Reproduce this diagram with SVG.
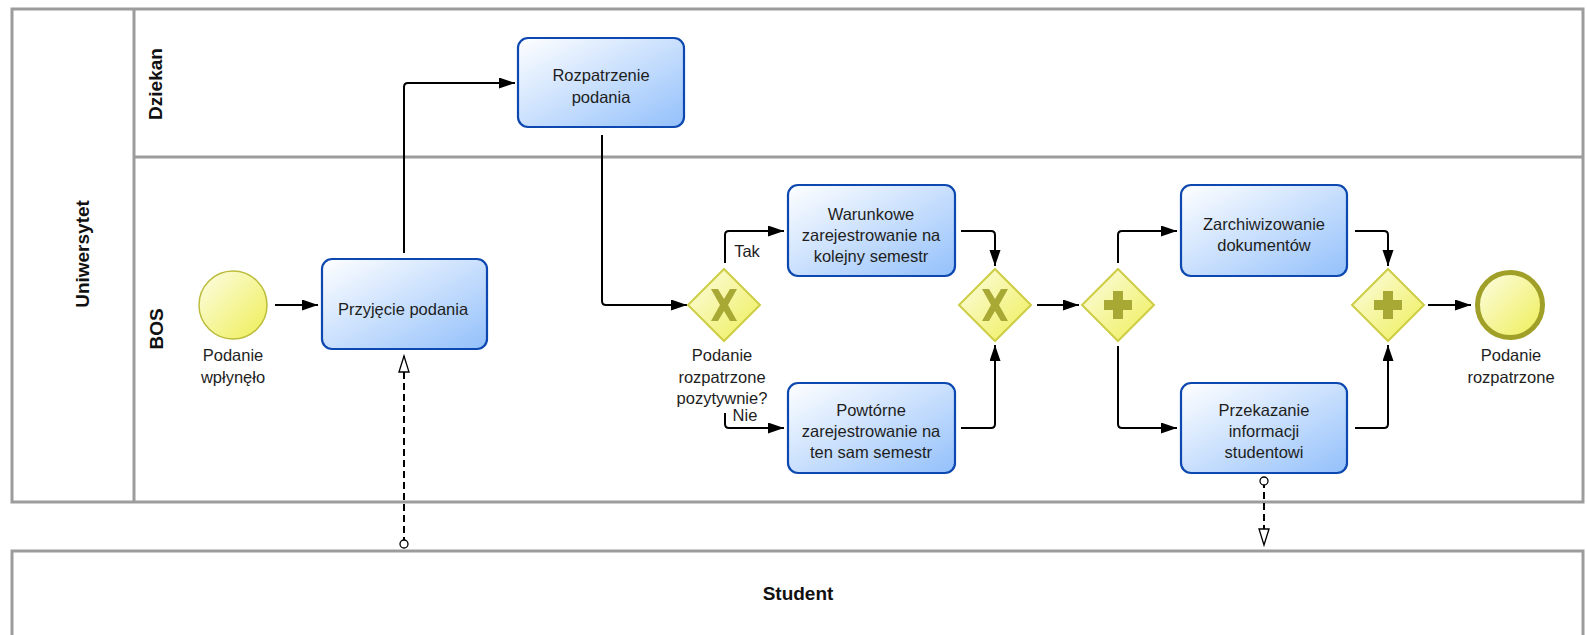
<svg xmlns="http://www.w3.org/2000/svg" width="1587" height="635" viewBox="0 0 1587 635">
<defs>
<linearGradient id="gTask" x1="0" y1="0" x2="1" y2="1">
<stop offset="0" stop-color="#ffffff"/>
<stop offset="1" stop-color="#93c0fb"/>
</linearGradient>
<linearGradient id="gYel" x1="0" y1="0" x2="1" y2="1">
<stop offset="0" stop-color="#fdfde6"/>
<stop offset="1" stop-color="#eeee55"/>
</linearGradient>
<marker id="arr" markerUnits="userSpaceOnUse" markerWidth="18" markerHeight="12" refX="16" refY="5.5" orient="auto">
<path d="M0,0 L16,5.5 L0,11 z" fill="#000"/>
</marker>
<marker id="hollow" markerUnits="userSpaceOnUse" markerWidth="20" markerHeight="14" refX="17" refY="6" orient="auto">
<path d="M1,1 L17,6 L1,11 z" fill="#fff" stroke="#000" stroke-width="1.3"/>
</marker>
<marker id="dot" markerUnits="userSpaceOnUse" markerWidth="12" markerHeight="12" refX="6" refY="6" orient="auto">
<circle cx="6" cy="6" r="4" fill="#fff" stroke="#000" stroke-width="1.3"/>
</marker>
</defs>
<style>
.pool{fill:none;stroke:#9c9c9c;stroke-width:3}
.task{fill:url(#gTask);stroke:#0d48b0;stroke-width:2.2}
.gw{fill:url(#gYel);stroke:#cdcd45;stroke-width:2}
.mk{fill:#a8a834}
.t{font-family:"Liberation Sans",Arial,sans-serif;font-size:16.5px;fill:#1e1e1e;text-anchor:middle}
.b{font-family:"Liberation Sans",Arial,sans-serif;font-size:19px;font-weight:bold;fill:#111;text-anchor:middle}
.seq{fill:none;stroke:#000;stroke-width:2;marker-end:url(#arr)}
.msg{fill:none;stroke:#000;stroke-width:2;stroke-dasharray:7,4;marker-start:url(#dot);marker-end:url(#hollow)}
</style>

<g id="pool-uniwersytet">
<rect class="pool" x="12" y="9" width="1571" height="493"/>
<line class="pool" x1="134" y1="9" x2="134" y2="502"/>
<line class="pool" x1="134" y1="157" x2="1583" y2="157"/>
<text class="b" transform="translate(89,254) rotate(-90)">Uniwersytet</text>
</g>
<g id="lane-dziekan">
<text class="b" transform="translate(162,84) rotate(-90)">Dziekan</text>
</g>
<g id="lane-bos">
<text class="b" transform="translate(163,329) rotate(-90)">BOS</text>
</g>
<g id="pool-student">
<rect class="pool" x="12" y="551" width="1571" height="120"/>
<text class="b" x="798" y="600">Student</text>
</g>

<g id="connectors">
<path class="seq" d="M275,305 H318"/>
<path class="seq" d="M404,253 V87 Q404,83 408,83 H515"/>
<path class="seq" d="M602,135 V301 Q602,305 606,305 H687"/>
<path class="seq" d="M725,263 V235 Q725,231 729,231 H784"/>
<path class="seq" d="M725,413 V424 Q725,428 729,428 H784"/>
<path class="seq" d="M961,231 H991 Q995,231 995,235 V266"/>
<path class="seq" d="M961,428 H991 Q995,428 995,424 V345"/>
<path class="seq" d="M1037,305 H1079"/>
<path class="seq" d="M1118,263 V235 Q1118,231 1122,231 H1177"/>
<path class="seq" d="M1118,346 V424 Q1118,428 1122,428 H1177"/>
<path class="seq" d="M1355,231 H1384 Q1388,231 1388,235 V266"/>
<path class="seq" d="M1355,428 H1384 Q1388,428 1388,424 V345"/>
<path class="seq" d="M1428,305 H1471"/>
<path class="msg" d="M404,544 V356"/>
<path class="msg" d="M1264,481 V545"/>
<text class="t" x="747" y="257">Tak</text>
<text class="t" x="745" y="421">Nie</text>
</g>

<g id="start-podanie-wplynelo">
<circle cx="233" cy="305" r="34" fill="url(#gYel)" stroke="#bcbc3c" stroke-width="1.5"/>
<text class="t" x="233" y="361">Podanie</text>
<text class="t" x="233" y="383">wpłynęło</text>
</g>

<g id="task-przyjecie">
<rect class="task" x="322" y="259" width="165" height="90" rx="10"/>
<text class="t" x="403" y="315">Przyjęcie podania</text>
</g>

<g id="task-rozpatrzenie">
<rect class="task" x="518" y="38" width="166" height="89" rx="10"/>
<text class="t" x="601" y="81">Rozpatrzenie</text>
<text class="t" x="601" y="103">podania</text>
</g>

<g id="gw-decyzja">
<path class="gw" d="M724,269 L760,305 L724,341 L688,305 z"/>
<path class="mk" d="M711,289 L718,289 L724,299 L730,289 L737,289 L728,305 L737,321 L730,321 L724,311 L718,321 L711,321 L720,305 z"/>
<text class="t" x="722" y="361">Podanie</text>
<text class="t" x="722" y="383">rozpatrzone</text>
<text class="t" x="722" y="404">pozytywnie?</text>
</g>

<g id="task-warunkowe">
<rect class="task" x="788" y="185" width="167" height="91" rx="10"/>
<text class="t" x="871" y="220">Warunkowe</text>
<text class="t" x="871" y="241">zarejestrowanie na</text>
<text class="t" x="871" y="262">kolejny semestr</text>
</g>

<g id="task-powtorne">
<rect class="task" x="788" y="383" width="167" height="90" rx="10"/>
<text class="t" x="871" y="416">Powtórne</text>
<text class="t" x="871" y="437">zarejestrowanie na</text>
<text class="t" x="871" y="458">ten sam semestr</text>
</g>

<g id="gw-merge">
<path class="gw" d="M995,269 L1031,305 L995,341 L959,305 z"/>
<path class="mk" d="M982,289 L989,289 L995,299 L1001,289 L1008,289 L999,305 L1008,321 L1001,321 L995,311 L989,321 L982,321 L991,305 z"/>
</g>

<g id="gw-fork">
<path class="gw" d="M1118,269 L1154,305 L1118,341 L1082,305 z"/>
<path class="mk" d="M1113,291 H1123 V300 H1132 V310 H1123 V319 H1113 V310 H1104 V300 H1113 z"/>
</g>

<g id="task-zarchiwizowanie">
<rect class="task" x="1181" y="185" width="166" height="91" rx="10"/>
<text class="t" x="1264" y="230">Zarchiwizowanie</text>
<text class="t" x="1264" y="251">dokumentów</text>
</g>

<g id="task-przekazanie">
<rect class="task" x="1181" y="383" width="166" height="90" rx="10"/>
<text class="t" x="1264" y="416">Przekazanie</text>
<text class="t" x="1264" y="437">informacji</text>
<text class="t" x="1264" y="458">studentowi</text>
</g>

<g id="gw-join">
<path class="gw" d="M1388,269 L1424,305 L1388,341 L1352,305 z"/>
<path class="mk" d="M1383,291 H1393 V300 H1402 V310 H1393 V319 H1383 V310 H1374 V300 H1383 z"/>
</g>

<g id="end-podanie-rozpatrzone">
<circle cx="1510" cy="305" r="32.5" fill="url(#gYel)" stroke="#a0a028" stroke-width="5"/>
<text class="t" x="1511" y="361">Podanie</text>
<text class="t" x="1511" y="383">rozpatrzone</text>
</g>
</svg>
